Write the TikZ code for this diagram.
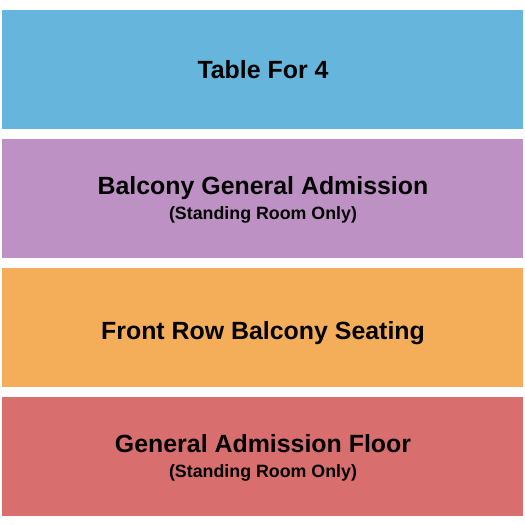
\documentclass[tikz,border=0pt]{standalone}
\usepackage{fontspec}
\setmainfont{Liberation Sans}
\usetikzlibrary{positioning}

\definecolor{tableblue}{RGB}{102,181,221}
\definecolor{balconypurple}{RGB}{190,145,196}
\definecolor{frontorange}{RGB}{244,174,90}
\definecolor{floorred}{RGB}{216,111,110}

\begin{document}
\begin{tikzpicture}[x=1pt, y=-1pt]

		\tikzstyle{band}=[rectangle, draw=none, outer sep=0pt, inner sep=0pt, anchor=north west, minimum width=521pt, minimum height=118.5pt]
		\tikzstyle{title}=[inner sep=0pt, anchor=base, text=black, font=\fontsize{24.9}{28}\selectfont\bfseries]
		\tikzstyle{note}=[inner sep=0pt, anchor=base, text=black, font=\fontsize{17.8}{21}\selectfont\bfseries]
		\useasboundingbox (0,0) rectangle (525,525);

		% Sections
		\node[band, fill=tableblue] (table) at (2,10) {};
		\node[band, fill=balconypurple] (balcony) at (2,139) {};
		\node[band, fill=frontorange] (front) at (2,268) {};
		\node[band, fill=floorred] (floor) at (2,397) {};

		% Labels
		\node[title] (tablelbl) at (263,78.5) {Table For 4};
		\node[title] (balconylbl) at (263,194.8) {Balcony General Admission};
		\node[note] (balconynote) at (263,219) {(Standing Room Only)};
		\node[title] (frontlbl) at (263,339.3) {Front Row Balcony Seating};
		\node[title] (floorlbl) at (263,452.8) {General Admission Floor};
		\node[note] (floornote) at (263,477) {(Standing Room Only)};

\end{tikzpicture}
\end{document}
